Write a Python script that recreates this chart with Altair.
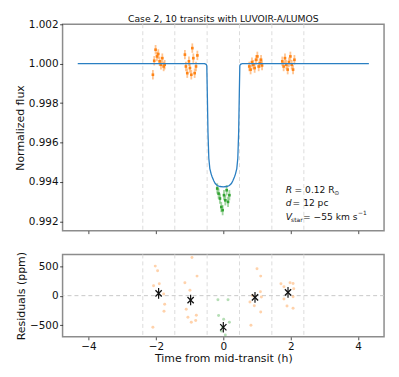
import altair as alt
import pandas as pd

# ---------------- data ----------------
# transit model curve (hours, normalized flux)
model_t = [-4.32, -0.56, -0.51, -0.49, -0.475, -0.455, -0.43, -0.40, -0.36, -0.33, -0.28, -0.24, -0.18, -0.10, 0.0,
           0.10, 0.18, 0.24, 0.28, 0.33, 0.36, 0.40, 0.43, 0.455, 0.475, 0.49, 0.51, 0.56, 4.32]
model_f = [1.0, 1.0, 0.99997, 0.9999, 0.9985, 0.9965, 0.9952, 0.99468, 0.99440, 0.99425, 0.99405, 0.99392, 0.99382, 0.99377, 0.99375,
           0.99377, 0.99382, 0.99392, 0.99405, 0.99425, 0.99440, 0.99468, 0.9952, 0.9965, 0.9985, 0.9999, 0.99997, 1.0, 1.0]

# out-of-transit data (orange)
obs_out_t = [-2.09, -2.05, -2.01, -1.97, -1.93, -1.89, -1.85, -1.81, -1.77, -1.74,
             -1.14, -1.11, -1.07, -1.02, -0.99, -0.95, -0.92, -0.89, -0.85, -0.81, -0.77,
             0.77, 0.81, 0.85, 0.89, 0.93, 0.97, 1.01, 1.05, 1.09, 1.12, 1.15,
             1.75, 1.79, 1.83, 1.87, 1.91, 1.95, 1.99, 2.03, 2.07, 2.11]
obs_out_f = [0.99944, 1.00015, 1.00071, 1.00037, 1.00049, 1.00012, 0.99995, 1.00028, 0.99986, 0.99995,
             1.00046, 0.99986, 0.99952, 1.00012, 0.99978, 0.99944, 1.00079, 1.00028, 0.99952, 0.99986, 1.00042,
             0.99986, 0.99970, 1.00008, 0.99995, 0.99978, 1.00020, 1.00037, 0.99986, 1.00003, 1.00020, 0.99991,
             1.00012, 0.99986, 1.00028, 0.99995, 0.99970, 1.00008, 1.00037, 0.99995, 0.99970, 1.00020]
obs_out_e = [0.00024] * 42

# in-transit data (green)
obs_in_t = [-0.18, -0.14, -0.10, -0.06, -0.02, 0.02, 0.06, 0.10, 0.14, 0.18]
obs_in_f = [0.99367, 0.99341, 0.99316, 0.99273, 0.99257, 0.99333, 0.99307, 0.99358, 0.99299, 0.99333]
obs_in_e = [0.00026] * 10

# residuals (ppm)
res_out_t = [-2.02, -1.95, -2.07, -1.90, -1.77, -1.74, -1.76, -2.09,
             -1.14, -0.99, -0.93, -0.78, -1.10, -0.80, -1.05, -0.95, -0.82,
             1.00, 1.11, 1.10, 0.87, 1.13, 0.79, 0.92, 1.11, 0.82,
             1.71, 1.98, 2.07, 1.80, 2.09, 2.07, 1.80, 1.89, 2.07]
res_out_r = [502, 424, 170, 203, 27, -147, -266, -537,
             220, 90, 649, 332, -232, -334, -368, -452, -424,
             457, 332, 68, 0, -24, -108, -170, -278, -503,
             203, 220, 208, 152, 119, -17, -57, -176, -215]
res_in_t = [-0.16, 0.14, -0.14, 0.01, 0.18, -0.06, 0.06, -0.02]
res_in_r = [-68, -68, -339, -402, -452, -600, -668, -537]

# binned residuals
bin_t = [-1.92, -0.97, 0.0, 0.94, 1.92]
bin_r = [39, -75, -537, -29, 56]
bin_e = [90, 90, 90, 90, 90]

bin_edges = [-2.39, -1.44, -0.48, 0.48, 1.44, 2.39]

x_ticks = [-4, -2, 0, 2, 4]
flux_ticks = [0.992, 0.994, 0.996, 0.998, 1.000, 1.002]
res_ticks = [-500, 0, 500]

# ---------------- chart ----------------
ORANGE = "#ff7f0e"
GREEN = "#2ca02c"
BLUE = "#2a7fc2"
W = 324

xscale = alt.Scale(domain=[-4.77, 4.77], nice=False, zero=False)
top_scale = alt.Scale(domain=[0.99153, 1.0020], nice=False, zero=False)
res_scale = alt.Scale(domain=[-700, 700], nice=False, zero=False)

X_top = alt.X("t:Q", scale=xscale,
              axis=alt.Axis(values=x_ticks, labels=False, title=None, grid=False))
Y_top = alt.Y("y:Q", scale=top_scale,
              axis=alt.Axis(values=flux_ticks, format=".3f", title="Normalized flux", grid=False))
X_bot = alt.X("t:Q", scale=xscale,
              axis=alt.Axis(values=x_ticks, format="d", title="Time from mid-transit (h)", grid=False,
                            titlePadding=1))
Y_bot = alt.Y("y:Q", scale=res_scale,
              axis=alt.Axis(values=res_ticks, format="d", title="Residuals (ppm)", grid=False))

edges_df = pd.DataFrame({"t": bin_edges})

model_df = pd.DataFrame({"t": model_t, "y": model_f})
out_df = pd.DataFrame({"t": obs_out_t, "y": obs_out_f, "e": obs_out_e})
out_df["lo"] = out_df["y"] - out_df["e"]
out_df["hi"] = out_df["y"] + out_df["e"]
in_df = pd.DataFrame({"t": obs_in_t, "y": obs_in_f, "e": obs_in_e})
in_df["lo"] = in_df["y"] - in_df["e"]
in_df["hi"] = in_df["y"] + in_df["e"]


def errbars(df, color):
    bars = alt.Chart(df).mark_rule(color=color, strokeWidth=1.8, opacity=0.45).encode(
        x=X_top, y=alt.Y("lo:Q", scale=top_scale, title="Normalized flux"), y2="hi:Q")
    pts = alt.Chart(df).mark_square(color=color, size=7, opacity=0.95).encode(x=X_top, y=Y_top)
    return bars + pts


model_line = alt.Chart(model_df).mark_line(color=BLUE, strokeWidth=1.3).encode(x=X_top, y=Y_top)

# annotation
ann_x = 1.85
ann_y = [0.99358, 0.99291, 0.99223]
ann_df = pd.DataFrame({"t": [ann_x] * 3, "y": ann_y})


def ann(row, text, dx, dy=0, size=9.2, italic=False):
    d = ann_df.iloc[[row]].assign(txt=text)
    return alt.Chart(d).mark_text(align="left", baseline="middle", dx=dx, dy=dy, fontSize=size,
                                  fontStyle="italic" if italic else "normal", color="#111").encode(
        x=X_top, y=Y_top, text="txt:N")


annot = (ann(0, "R", 0, italic=True) + ann(0, "= 0.12 R", 9) + ann(0, "⊙", 49, dy=3, size=6)
         + ann(1, "d", 0, italic=True) + ann(1, "= 12 pc", 7)
         + ann(2, "V", 0, italic=True) + ann(2, "star", 5.5, dy=3, size=6) + ann(2, "= −55 km s", 17.5)
         + ann(2, "−1", 73, dy=-4, size=6))

top = alt.layer(
    alt.Chart(edges_df).mark_rule(color="#dcdcdc", strokeDash=[4, 3], strokeWidth=1).encode(x=X_top),
    errbars(out_df, ORANGE),
    errbars(in_df, GREEN),
    model_line,
    annot,
).properties(width=W, height=208,
             title=alt.TitleParams("Case 2, 10 transits with LUVOIR-A/LUMOS", fontSize=9.3,
                                   fontWeight="normal", offset=-5, color="#111"))

res_o = pd.DataFrame({"t": res_out_t, "y": res_out_r})
res_g = pd.DataFrame({"t": res_in_t, "y": res_in_r})
bin_df = pd.DataFrame({"t": bin_t, "y": bin_r, "e": bin_e})
bin_df["lo"] = bin_df["y"] - bin_df["e"]
bin_df["hi"] = bin_df["y"] + bin_df["e"]
zero_df = pd.DataFrame({"y": [0]})

bottom = alt.layer(
    alt.Chart(edges_df).mark_rule(color="#dcdcdc", strokeDash=[4, 3], strokeWidth=1).encode(x=X_bot),
    alt.Chart(zero_df).mark_rule(color="#c8c8c8", strokeDash=[4, 3], strokeWidth=1).encode(y=Y_bot),
    alt.Chart(res_o).mark_circle(color=ORANGE, size=9, opacity=0.35).encode(x=X_bot, y=Y_bot),
    alt.Chart(res_g).mark_circle(color=GREEN, size=9, opacity=0.35).encode(x=X_bot, y=Y_bot),
    alt.Chart(bin_df).mark_rule(color="#111", strokeWidth=1.2).encode(
        x=X_bot, y=alt.Y("lo:Q", scale=res_scale, title="Residuals (ppm)"), y2="hi:Q"),
    alt.Chart(bin_df).mark_point(shape="M-1,-1L1,1M-1,1L1,-1", size=40, filled=False,
                                 color="#111", strokeWidth=1.3, opacity=1).encode(x=X_bot, y=Y_bot),
).properties(width=W, height=83)

chart = alt.vconcat(top, bottom, spacing=15).properties(
    padding={"left": 5, "top": 4, "right": 5, "bottom": 0}
).configure(font="DejaVu Sans").configure_view(
    stroke="#8c8c8c", strokeWidth=1.5
).configure_axis(
    domain=False, tickColor="#222", tickSize=3, tickWidth=0.8, labelFontSize=10.5,
    labelColor="#111", titleFontSize=11, titleFontWeight="normal", titleColor="#111",
    labelPadding=1.5, titlePadding=3
)

chart.save("out.html", embed_options={"renderer": "svg", "actions": False})
